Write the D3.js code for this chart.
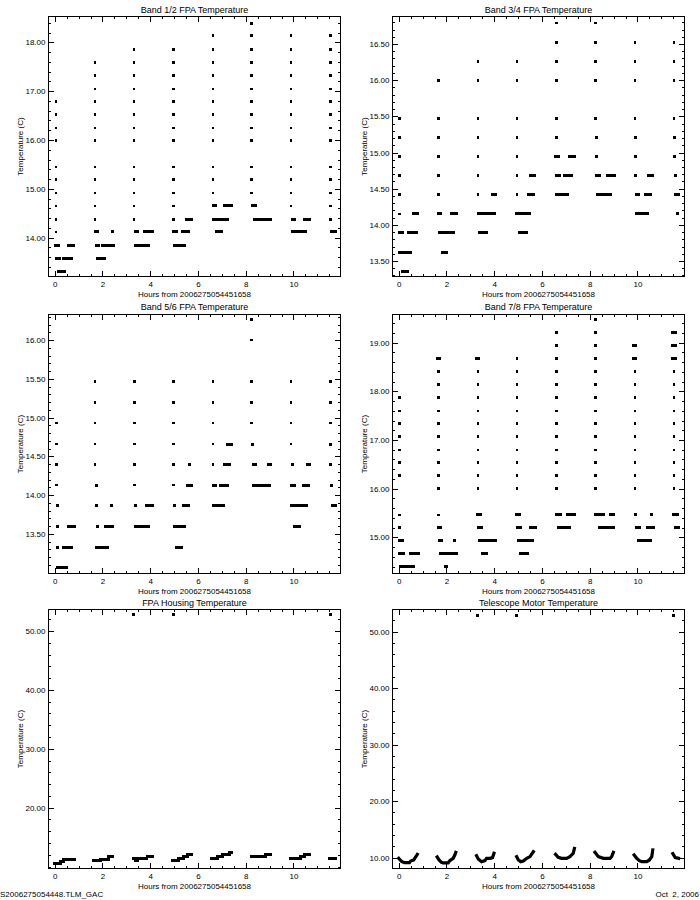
<!DOCTYPE html>
<html><head><meta charset="utf-8">
<script src="https://cdn.jsdelivr.net/npm/d3@7/dist/d3.min.js"></script>
<style>
body{margin:0;background:#fff}
text{font-family:"Liberation Sans",Arial,sans-serif;fill:#000}
</style>
</head><body>
<svg id="c" width="700" height="900"></svg>
<script>
// ---------------- DATA ----------------
const xTickValues = [0, 2, 4, 6, 8, 10];
const xLabel = "Hours from 2006275054451658";
const yLabel = "Temperature (C)";
const footerLeft = "S2006275054448.TLM_GAC";
const footerRight = "Oct  2, 2006";

// Band 1/2 : column samples at start of each pass [hour, [temps]] and runs [h0, h1, temp]
const band12Cols = [
  [0.05, [16.79,16.52,16.25,15.99,15.45,15.19,14.92,14.65,14.38,14.12]],
  [1.68, [17.59,17.32,17.05,16.79,16.52,16.25,15.99,15.45,15.19,14.92,14.65,14.38]],
  [3.31, [17.86,17.59,17.32,17.05,16.79,16.52,16.25,15.99,15.45,15.19,14.92,14.65,14.38]],
  [4.98, [17.86,17.59,17.32,17.05,16.79,16.52,16.25,15.99,15.45,15.19,14.92,14.65,14.38]],
  [6.62, [18.14,17.86,17.59,17.32,17.05,16.79,16.52,16.25,15.99,15.45,15.19,14.92]],
  [8.24, [18.39,18.14,17.86,17.59,17.32,17.05,16.79,16.52,16.25,15.99,15.45,15.19,14.92]],
  [9.89, [18.14,17.86,17.59,17.32,17.05,16.79,16.52,16.25,15.99,15.45,15.19,14.92,14.65]],
  [11.54,[18.14,17.86,17.59,17.32,17.05,16.79,16.52,16.25,15.99,15.45,15.19,14.92,14.65]]
];
const band12Runs = [
  [0.04,0.15,13.85],[0.07,0.21,13.58],[0.14,0.42,13.31],[0.38,0.69,13.58],[0.59,0.80,13.85],
  [1.72,1.80,14.12],[1.73,1.85,13.85],[1.79,2.10,13.58],[1.99,2.45,13.85],[2.40,2.40,14.12],
  [3.37,3.45,14.12],[3.40,3.94,13.85],[3.76,4.08,14.12],
  [4.99,5.09,14.12],[5.02,5.45,13.85],[5.34,5.62,14.12],[5.52,5.72,14.38],
  [6.65,6.72,14.65],[6.66,6.81,14.38],[6.76,6.98,14.12],[6.91,7.23,14.38],[7.12,7.40,14.65],
  [8.30,8.42,14.65],[8.36,9.02,14.38],
  [9.97,10.05,14.38],[9.97,10.52,14.12],[10.45,10.66,14.38],
  [11.57,11.57,14.38],[11.60,11.75,14.12]
];

// Band 3/4
const band34Cols = [
  [0.02, [15.47,15.21,14.95,14.68,14.42,14.15]],
  [1.66, [16.00,15.47,15.21,14.95,14.68,14.42]],
  [3.31, [16.26,16.00,15.47,15.21,14.95,14.68,14.42]],
  [4.95, [16.26,16.00,15.47,15.21,14.95,14.68,14.42]],
  [6.60, [16.79,16.52,16.26,16.00,15.47,15.21]],
  [8.24, [16.79,16.52,16.26,16.00,15.47]],
  [9.89, [16.52,16.26,16.00,15.47]],
  [11.52,[16.52,16.26,16.00,15.47]]
];
const band34Runs = [
  [0.02,0.15,13.89],[0.04,0.49,13.62],[0.14,0.36,13.36],[0.39,0.74,13.89],[0.60,0.80,14.15],
  [1.68,1.73,14.15],[1.69,2.28,13.89],[1.82,2.00,13.62],[2.21,2.42,14.15],
  [3.33,3.51,14.15],[3.40,3.66,13.89],[3.54,4.00,14.15],[3.92,4.06,14.42],
  [4.95,5.09,14.15],[5.05,5.36,13.89],[5.24,5.47,14.15],[5.43,5.65,14.42],[5.54,5.68,14.68],
  [6.57,6.69,14.95],[6.62,6.73,14.68],[6.62,7.08,14.42],[6.96,7.24,14.68],[7.17,7.38,14.95],
  [8.28,8.28,15.21],[8.29,8.29,14.95],[8.27,8.41,14.68],[8.31,8.85,14.42],[8.76,9.02,14.68],
  [9.93,9.93,15.21],[9.93,9.93,14.95],[9.93,9.93,14.68],[9.94,10.04,14.42],[9.94,10.43,14.15],[10.34,10.56,14.42],[10.46,10.64,14.68],
  [11.55,11.55,15.21],[11.55,11.55,14.95],[11.58,11.58,14.68],[11.58,11.73,14.42],[11.68,11.68,14.15]
];

// Band 5/6
const band56Cols = [
  [0.07, [14.93,14.66,14.40,14.13]],
  [1.69, [15.47,15.20,14.93,14.66,14.40]],
  [3.33, [15.47,15.20,14.93,14.66,14.40,14.13]],
  [4.97, [15.47,15.20,14.93,14.66,14.40,14.13]],
  [6.62, [15.47,15.20,14.93,14.66,14.40]],
  [8.25, [16.27,16.00,15.47,15.20,14.93]],
  [9.90, [15.47,15.20,14.93,14.66]],
  [11.54,[15.47,15.20,14.93]]
];
const band56Runs = [
  [0.10,0.10,13.87],[0.10,0.10,13.60],[0.13,0.13,13.33],[0.13,0.48,13.07],[0.35,0.69,13.33],[0.56,0.83,13.60],
  [1.73,1.73,14.13],[1.73,1.73,13.87],[1.78,1.78,13.60],[1.76,2.22,13.33],[2.13,2.41,13.60],[2.39,2.39,13.87],
  [3.38,3.38,13.87],[3.38,3.94,13.60],[3.85,4.08,13.87],
  [5.03,5.03,13.87],[5.02,5.10,13.60],[5.09,5.33,13.33],[5.23,5.45,13.60],[5.38,5.62,13.87],[5.55,5.71,14.13],[5.66,5.66,14.40],
  [6.65,6.74,14.13],[6.67,7.06,13.87],[6.95,7.23,14.13],[7.13,7.34,14.40],[7.24,7.40,14.66],
  [8.29,8.29,14.66],[8.31,8.39,14.40],[8.31,8.99,14.13],[8.95,9.02,14.40],
  [9.96,9.96,14.40],[9.93,10.03,14.13],[9.93,10.55,13.87],[10.05,10.24,13.60],[10.42,10.63,14.13],[10.59,10.66,14.40],
  [11.57,11.57,14.66],[11.57,11.57,14.40],[11.61,11.61,14.13],[11.64,11.75,13.87]
];

// Band 7/8
const band78Cols = [
  [0.02, [17.87,17.60,17.34,17.07,16.80,16.54,16.27,15.46]],
  [1.66, [18.41,18.14,17.87,17.60,17.34,17.07,16.80,16.54,16.27,16.00,15.46]],
  [3.31, [18.41,18.14,17.87,17.60,17.34,17.07,16.80,16.54,16.27,16.00]],
  [4.95, [18.68,18.41,18.14,17.87,17.60,17.34,17.07,16.80,16.54,16.27,16.00]],
  [6.60, [19.21,18.95,18.68,18.41,18.14,17.87,17.60,17.34,17.07,16.80,16.54,16.27,16.00]],
  [8.24, [19.48,19.21,18.95,18.68,18.41,18.14,17.87,17.60,17.34,17.07,16.80,16.54,16.27,16.00]],
  [9.89, [18.41,18.14,17.87,17.60,17.34,17.07,16.80,16.54,16.27,16.00]],
  [11.52,[18.41,18.14,17.87,17.60,17.34,17.07,16.80,16.54,16.27,16.00]]
];
const band78Runs = [
  [0.04,0.04,15.20],[0.04,0.15,14.93],[0.04,0.18,14.66],[0.07,0.60,14.40],[0.50,0.81,14.66],
  [1.62,1.72,18.68],[1.66,1.76,15.20],[1.72,1.80,14.93],[1.75,2.40,14.66],[1.95,2.01,14.40],[2.35,2.35,14.93],
  [3.26,3.36,18.68],[3.30,3.43,15.46],[3.34,3.45,15.20],[3.40,4.06,14.93],[3.51,3.68,14.66],
  [4.92,5.06,15.46],[4.98,5.10,15.20],[5.02,5.17,14.93],[5.11,5.40,14.66],[5.31,5.60,14.93],[5.51,5.71,15.20],
  [6.60,6.77,15.46],[6.70,7.17,15.20],[7.06,7.38,15.46],
  [8.24,8.57,15.46],[8.43,8.98,15.20],[8.87,9.01,15.46],
  [9.83,9.93,18.95],[9.83,9.93,18.68],[9.93,9.93,15.46],[9.96,10.08,15.20],[10.06,10.53,14.93],[10.42,10.67,15.20],[10.57,10.57,15.46],
  [11.48,11.58,19.21],[11.48,11.58,18.95],[11.48,11.58,18.68],[11.51,11.68,15.46],[11.59,11.73,15.20]
];

// FPA Housing : runs [h0, h1, temp]
const housingRuns = [
  [0.00,0.24,10.55],[0.24,0.38,10.83],[0.38,0.83,11.23],
  [1.61,1.92,11.00],[1.92,2.24,11.23],[2.27,2.44,11.68],
  [3.32,3.39,11.40],[3.39,3.46,11.00],[3.46,3.84,11.34],[3.87,4.08,11.79],
  [4.94,5.20,11.00],[5.20,5.39,11.40],[5.39,5.55,11.73],[5.55,5.72,12.12],
  [6.57,6.81,11.34],[6.81,7.02,11.68],[7.02,7.30,12.07],[7.30,7.40,12.42],
  [8.24,8.84,11.73],[8.84,9.02,12.12],
  [9.86,10.28,11.34],[10.28,10.45,11.73],[10.45,10.66,12.12],
  [11.50,11.75,11.34],
  [3.31,3.31,52.72],[4.97,4.97,52.72],[11.54,11.54,52.72]
];

// Telescope Motor : per-pass sample curves [hour, temp]
const motorPasses = [
  [[0.00,9.88],[0.06,9.59],[0.13,9.29],[0.25,9.12],[0.45,9.12],[0.50,9.41],[0.63,9.59],[0.67,9.88],[0.74,10.30],[0.78,10.59]],
  [[1.61,10.12],[1.69,9.59],[1.79,9.17],[1.86,9.06],[2.07,9.06],[2.14,9.47],[2.28,9.88],[2.35,10.47],[2.39,10.94]],
  [[3.26,10.35],[3.33,9.76],[3.47,9.29],[3.61,9.47],[3.68,9.88],[3.82,9.88],[3.93,10.00],[3.99,10.77]],
  [[4.94,10.18],[5.01,9.59],[5.11,9.29],[5.22,9.41],[5.36,9.88],[5.50,10.18],[5.64,11.06]],
  [[6.57,10.59],[6.68,10.06],[6.82,9.88],[7.03,9.88],[7.17,10.18],[7.31,10.77],[7.36,11.65]],
  [[8.22,10.94],[8.36,10.18],[8.57,9.88],[8.85,9.88],[8.92,10.18],[8.99,10.94]],
  [[9.86,10.47],[9.97,9.88],[10.08,9.47],[10.18,9.29],[10.39,9.29],[10.50,9.59],[10.60,10.18],[10.64,11.36]],
  [[11.48,10.71],[11.58,10.00],[11.72,9.88]]
];
const motorOutliers = [[3.30,52.83],[4.94,52.83],[11.51,52.83]];

// Tick values per panel
const yTicks12 = [14, 15, 16, 17, 18];
const yTicks34 = [13.5, 14, 14.5, 15, 15.5, 16, 16.5];
const yTicks56 = [13.5, 14, 14.5, 15, 15.5, 16];
const yTicks78 = [15, 16, 17, 18, 19];
const yTicksHousing = [20, 30, 40, 50];
const yTicksMotor = [10, 20, 30, 40, 50];

// ---------------- LAYOUT ----------------
const panels = [
  {title:"Band 1/2 FPA Temperature", box:[48.5,16.5,340.5,276.5], yd:[13.205,18.529], yt:yTicks12, ym:0.2, cols:band12Cols, runs:band12Runs, titleY:13, ylx:20},
  {title:"Band 3/4 FPA Temperature", box:[392.5,16.5,684.5,276.5], yd:[13.286,16.88], yt:yTicks34, ym:0.1, cols:band34Cols, runs:band34Runs, titleY:13, ylx:364},
  {title:"Band 5/6 FPA Temperature", box:[48.5,314.5,340.5,573.5], yd:[12.99,16.33], yt:yTicks56, ym:0.1, cols:band56Cols, runs:band56Runs, titleY:310, ylx:20},
  {title:"Band 7/8 FPA Temperature", box:[392.5,314.5,684.5,573.5], yd:[14.257,19.579], yt:yTicks78, ym:0.2, cols:band78Cols, runs:band78Runs, titleY:310, ylx:364},
  {title:"FPA Housing Temperature", box:[48.5,609.5,340.5,868.5], yd:[9.67,53.65], yt:yTicksHousing, ym:2, runs:housingRuns, titleY:606, ylx:20},
  {title:"Telescope Motor Temperature", box:[392.5,609.5,684.5,868.5], yd:[8.08,53.92], yt:yTicksMotor, ym:2, curves:motorPasses, pts:motorOutliers, titleY:606, ylx:364}
];
const xDomain = [-0.26, 11.97];

const svg = d3.select("#c");
svg.append("rect").attr("width",700).attr("height",900).attr("fill","#fff");

panels.forEach(p => {
  const [x0,y0,x1,y1] = p.box;
  const x = d3.scaleLinear().domain(xDomain).range([x0,x1]);
  const y = d3.scaleLinear().domain(p.yd).range([y1,y0]);
  const g = svg.append("g");
  const minorX = d3.range(-0.0, 12, 0.5).filter(v => v>=xDomain[0] && v<=xDomain[1] && !xTickValues.includes(v));
  const minorY = d3.range(Math.ceil(p.yd[0]/p.ym)*p.ym, p.yd[1], p.ym).map(v=>+v.toFixed(4))
      .filter(v => !p.yt.some(t => Math.abs(t-v)<1e-6));
  const tl = 5.8, tm = 2.9;

  // bottom axis
  const bx = g.append("g").attr("transform",`translate(0,${y1})`)
    .call(d3.axisBottom(x).tickValues(xTickValues).tickSize(-tl).tickPadding(5).tickFormat(d3.format("d")));
  g.append("g").attr("transform",`translate(0,${y1})`).call(d3.axisBottom(x).tickValues(minorX).tickSize(-tm).tickFormat(""));
  // top axis
  g.append("g").attr("transform",`translate(0,${y0})`).call(d3.axisTop(x).tickValues(xTickValues).tickSize(-tl).tickFormat(""));
  g.append("g").attr("transform",`translate(0,${y0})`).call(d3.axisTop(x).tickValues(minorX).tickSize(-tm).tickFormat(""));
  // left axis
  g.append("g").attr("transform",`translate(${x0},0)`)
    .call(d3.axisLeft(y).tickValues(p.yt).tickSize(-tl).tickPadding(3).tickFormat(d3.format(".2f")));
  g.append("g").attr("transform",`translate(${x0},0)`).call(d3.axisLeft(y).tickValues(minorY).tickSize(-tm).tickFormat(""));
  // right axis
  g.append("g").attr("transform",`translate(${x1},0)`).call(d3.axisRight(y).tickValues(p.yt).tickSize(-tl).tickFormat(""));
  g.append("g").attr("transform",`translate(${x1},0)`).call(d3.axisRight(y).tickValues(minorY).tickSize(-tm).tickFormat(""));
  g.selectAll(".domain").remove();
  g.selectAll(".tick line").attr("stroke","#000").attr("shape-rendering","crispEdges");
  g.selectAll(".tick text").attr("font-size",8).attr("font-family","'Liberation Sans',Arial,sans-serif").attr("fill","#000");

  g.append("rect").attr("x",x0).attr("y",y0).attr("width",x1-x0).attr("height",y1-y0)
    .attr("fill","none").attr("stroke","#000").attr("shape-rendering","crispEdges");

  // title
  g.append("text").attr("x",(x0+x1)/2).attr("y",p.titleY).attr("text-anchor","middle")
    .attr("font-size",9).text(p.title);
  // x label
  g.append("text").attr("x",(x0+x1)/2).attr("y",y1+20).attr("text-anchor","middle")
    .attr("font-size",8).text(xLabel);
  // y label
  g.append("text").attr("transform",`translate(${p.ylx+3},${(y0+y1)/2}) rotate(-90)`).attr("text-anchor","middle")
    .attr("font-size",8).text(yLabel);

  const marks = g.append("g").attr("shape-rendering","crispEdges");
  if (p.cols) {
    p.cols.forEach(([t, temps]) => {
      marks.selectAll(null).data(temps).enter().append("rect")
        .attr("x", x(t)-1.2).attr("y", d => y(d)-1.2).attr("width",2.6).attr("height",2.6).attr("fill","#000");
    });
  }
  if (p.runs) {
    marks.selectAll(null).data(p.runs).enter().append("rect")
      .attr("x", d => x(d[0])-1.5).attr("y", d => y(d[2])-1.5)
      .attr("width", d => x(d[1])-x(d[0])+3).attr("height",3).attr("fill","#000");
  }
  if (p.curves) {
    const line = d3.line().x(d=>x(d[0])).y(d=>y(d[1]));
    marks.selectAll(null).data(p.curves).enter().append("path")
      .attr("d", line).attr("fill","none").attr("stroke","#000").attr("stroke-width",3.2)
      .attr("stroke-linecap","square").attr("shape-rendering","auto");
  }
  if (p.pts) {
    marks.selectAll(null).data(p.pts).enter().append("rect")
      .attr("x", d => x(d[0])-1.5).attr("y", d => y(d[1])-1.5).attr("width",3).attr("height",3).attr("fill","#000");
  }
});

svg.append("text").attr("x",0).attr("y",897).attr("font-size",8).text(footerLeft);
svg.append("text").attr("x",699).attr("y",897).attr("font-size",8).attr("text-anchor","end").attr("xml:space","preserve").style("white-space","pre").text(footerRight);
</script>
</body></html>
